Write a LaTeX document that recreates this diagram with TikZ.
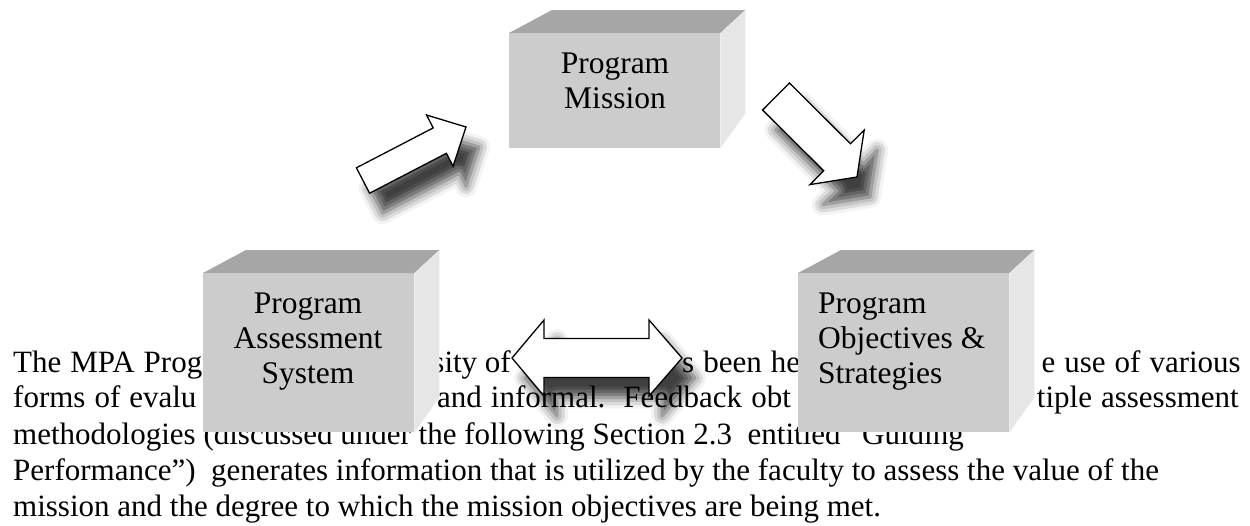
\documentclass[tikz,border=0pt]{standalone}
\usepackage{fontspec}
\setmainfont{Liberation Serif}
\usetikzlibrary{calc,positioning,shadows.blur}

\definecolor{frontgray}{HTML}{CCCCCC}
\definecolor{topgray}{HTML}{A6A6A6}
\definecolor{sidegray}{HTML}{E6E6E6}

\tikzset{
    face/.style={fill=frontgray, inner sep=0pt, minimum width=211pt, anchor=north west},
    boxtext/.style={font=\fontsize{31.5}{35}\selectfont, inner sep=0pt},
    bodytext/.style={font=\fontsize{31}{36}\selectfont, inner sep=0pt, anchor=base west},
    wide/.style={execute at begin node={\spaceskip=9pt plus 2pt}},
    blockarrow/.style={draw=black, line width=1.3pt, fill=white, line join=miter,
        blur shadow={shadow xshift=13pt, shadow yshift=-20pt,
                     shadow blur radius=11pt, shadow opacity=75}}
}

\begin{document}
\begin{tikzpicture}[x=1pt, y=-1pt]
    \useasboundingbox (0,0) rectangle (1250,525);
    % block arrows (with their shadows, below the text)
    \path[blockarrow] (356.4,167.8) -- (433.2,127.9) -- (426.5,115.0) -- (466,127)
        -- (453.1,166.2) -- (446.4,153.3) -- (369.6,193.2) -- cycle;
    \path[blockarrow] (789.4,83.0) -- (850.5,143.8) -- (864.2,130.0) -- (857,177)
        -- (810.0,184.6) -- (823.7,170.8) -- (762.6,110.0) -- cycle;
    \path[blockarrow] (512,358) -- (544,320) -- (544,338.5) -- (649,338.5) -- (649,320)
        -- (682,358) -- (649,396) -- (649,377.5) -- (544,377.5) -- (544,396) -- cycle;
    % paragraph behind the diagram
    \node[bodytext, wide] (p1a) at (13,372) {The MPA Prog};
    \node[bodytext, anchor=base east] (p1b) at (511,372) {sity of};
    \node[bodytext, wide] (p1c) at (682,372) {s been he};
    \node[bodytext, wide, anchor=base east] (p1d) at (1241,372) {e use of various};
    \node[bodytext, wide] (p2a) at (13,407) {forms of evalu};
    \node[bodytext, wide] (p2b) at (437,407) {and informal.\ \ Feedback obt};
    \node[bodytext, wide, anchor=base east] (p2c) at (1239,407) {tiple assessment};
    \node[bodytext] (p3) at (13,444) {methodologies (discussed under the following Section 2.3\ \ entitled “Guiding};
    \node[bodytext] (p4) at (13,480) {Performance”)\ \ generates information that is utilized by the faculty to assess the value of the};
    \node[bodytext] (p5) at (13,516) {mission and the degree to which the mission objectives are being met.};
    % boxes
    \node[face, minimum height=115pt] (mission) at (509,33) {};
    \node[face, minimum height=159pt] (assessment) at (203,273) {};
    \node[face, minimum height=159pt] (objectives) at (798,273) {};
    \foreach \b in {mission,assessment,objectives} {
        \fill[topgray] (\b.north west) -- ++(43,-23) -- ($(\b.north east)+(25,-23)$) -- (\b.north east) -- cycle;
        \fill[sidegray] (\b.north east) -- ++(25,-23) -- ($(\b.south east)+(25,-35)$) -- (\b.south east) -- cycle;
    }
    \node[boxtext, align=center, anchor=north] (missionText) at (615,53) {Program\\Mission};
    \node[boxtext, align=center, anchor=north] (assessmentText) at (308,293) {Program\\Assessment\\System};
    \node[boxtext, align=left, anchor=north west] (objectivesText) at (818,293) {Program\\Objectives \&\\Strategies};
\end{tikzpicture}
\end{document}
